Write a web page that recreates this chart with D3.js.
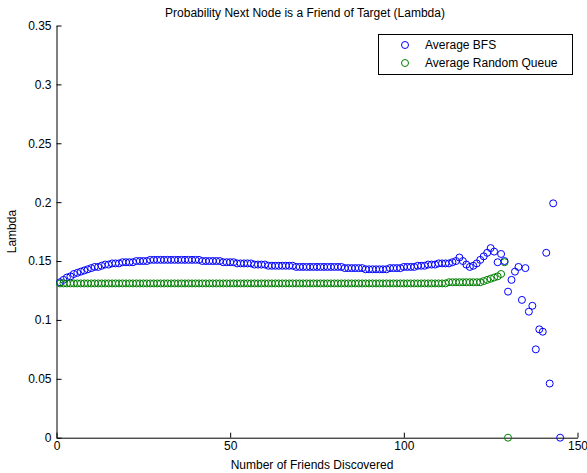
<!DOCTYPE html>
<html>
<head>
<meta charset="utf-8">
<script src="https://cdn.jsdelivr.net/npm/d3@7"></script>
<style>
  body { margin: 0; background: #fff; }
  svg text { font-family: "Liberation Sans", Arial, sans-serif; fill: #000; }
</style>
</head>
<body>
<div id="chart"></div>
<script>
/* =========================
   DATA
   ========================= */

// Average BFS, one value per number of friends discovered (1..145), null = no point
const bfsValues = [
  0.132, 0.134, 0.136, 0.137, 0.139, 0.140, 0.141, 0.142, 0.143, 0.144,
  0.145, 0.145, 0.146, 0.147, 0.147, 0.148, 0.148, 0.148, 0.149, 0.149,
  0.149, 0.149, 0.150, 0.150, 0.150, 0.150, 0.151, 0.151, 0.151, 0.151,
  0.151, 0.151, 0.151, 0.151, 0.151, 0.151, 0.151, 0.151, 0.151, 0.151,
  0.151, 0.150, 0.150, 0.150, 0.150, 0.150, 0.150, 0.149, 0.149, 0.149,
  0.149, 0.148, 0.148, 0.148, 0.148, 0.148, 0.147, 0.147, 0.147, 0.147,
  0.146, 0.146, 0.146, 0.146, 0.146, 0.146, 0.146, 0.146, 0.145, 0.145,
  0.145, 0.145, 0.145, 0.145, 0.145, 0.145, 0.145, 0.145, 0.145, 0.145,
  0.145, 0.145, 0.144, 0.144, 0.144, 0.144, 0.144, 0.144, 0.143, 0.143,
  0.143, 0.143, 0.143, 0.143, 0.143, 0.144, 0.144, 0.144, 0.144, 0.145,
  0.145, 0.145, 0.145, 0.146, 0.146, 0.146, 0.147, 0.147, 0.147, 0.148,
  0.148, 0.148, 0.148, 0.149, 0.150, 0.153, 0.150, 0.147, 0.145, 0.146,
  0.148, 0.151, 0.154, 0.157, 0.161, 0.158, 0.149, 0.156, 0.150, 0.124,
  0.134, 0.141, 0.145, 0.117, 0.144, 0.107, 0.112, 0.075, 0.092, 0.090,
  0.157, 0.046, 0.199, null, 0
];

// Average Random Queue (1..130)
const rqValues = [
  0.131, 0.131, 0.131, 0.131, 0.131, 0.131, 0.131, 0.131, 0.131, 0.131,
  0.131, 0.131, 0.131, 0.131, 0.131, 0.131, 0.131, 0.131, 0.131, 0.131,
  0.131, 0.131, 0.131, 0.131, 0.131, 0.131, 0.131, 0.131, 0.131, 0.131,
  0.131, 0.131, 0.131, 0.131, 0.131, 0.131, 0.131, 0.131, 0.131, 0.131,
  0.131, 0.131, 0.131, 0.131, 0.131, 0.131, 0.131, 0.131, 0.131, 0.131,
  0.131, 0.131, 0.131, 0.131, 0.131, 0.131, 0.131, 0.131, 0.131, 0.131,
  0.131, 0.131, 0.131, 0.131, 0.131, 0.131, 0.131, 0.131, 0.131, 0.131,
  0.131, 0.131, 0.131, 0.131, 0.131, 0.131, 0.131, 0.131, 0.131, 0.131,
  0.131, 0.131, 0.131, 0.131, 0.131, 0.131, 0.131, 0.131, 0.131, 0.131,
  0.131, 0.131, 0.131, 0.131, 0.131, 0.131, 0.131, 0.131, 0.131, 0.131,
  0.131, 0.131, 0.131, 0.131, 0.131, 0.131, 0.131, 0.131, 0.131, 0.131,
  0.131, 0.131, 0.132, 0.132, 0.132, 0.132, 0.132, 0.132, 0.132, 0.132,
  0.132, 0.132, 0.133, 0.134, 0.135, 0.136, 0.137, 0.139, 0.149, 0
];

const xTicks = [0, 50, 100, 150];
const yTicks = [0, 0.05, 0.1, 0.15, 0.2, 0.25, 0.3, 0.35];
const seriesNames = ["Average BFS", "Average Random Queue"];
const seriesColors = ["#0000ff", "#008000"];

/* =========================
   LAYOUT
   ========================= */

const WIDTH = 587;
const HEIGHT = 473;
const MARKER_R = 3.5;
const FONT = 12;

const x = d3.scaleLinear().domain([0, 150]).range([56.5, 577.5]);
const y = d3.scaleLinear().domain([0, 0.35]).range([437.7, 25.5]);

const svg = d3.select("#chart")
  .append("svg")
  .attr("width", WIDTH)
  .attr("height", HEIGHT);

svg.append("rect")
  .attr("width", WIDTH)
  .attr("height", HEIGHT)
  .attr("fill", "#fff");

/* =========================
   AXES
   ========================= */

const xAxis = d3.axisBottom(x)
  .tickValues(xTicks)
  .tickSizeInner(-5)
  .tickSizeOuter(0)
  .tickPadding(4);

const yAxis = d3.axisLeft(y)
  .tickValues(yTicks)
  .tickFormat(d3.format("~g"))
  .tickSizeInner(-5)
  .tickSizeOuter(0)
  .tickPadding(5);

svg.append("g")
  .attr("transform", `translate(0, ${y(0)})`)
  .call(xAxis)
  .call(g => g.selectAll("text").attr("font-size", FONT).attr("font-family", null))
  .call(g => g.selectAll("line, path").attr("stroke", "#000"));

svg.append("g")
  .attr("transform", `translate(${x(0)}, 0)`)
  .call(yAxis)
  .call(g => g.selectAll("text").attr("font-size", FONT).attr("font-family", null))
  .call(g => g.selectAll("line, path").attr("stroke", "#000"));

// titres
svg.append("text")
  .attr("x", 305)
  .attr("y", 17)
  .attr("text-anchor", "middle")
  .attr("font-size", FONT)
  .text("Probability Next Node is a Friend of Target (Lambda)");

svg.append("text")
  .attr("x", 312)
  .attr("y", 469)
  .attr("text-anchor", "middle")
  .attr("font-size", FONT)
  .text("Number of Friends Discovered");

svg.append("text")
  .attr("transform", `translate(16, ${(y(0) + y(0.35)) / 2}) rotate(-90)`)
  .attr("text-anchor", "middle")
  .attr("font-size", FONT)
  .text("Lambda");

/* =========================
   MARKERS
   ========================= */

const series = [bfsValues, rqValues];

series.forEach((values, i) => {
  const pts = values
    .map((v, k) => ({ n: k + 1, v }))
    .filter(d => d.v !== null);

  svg.append("g")
    .selectAll("circle")
    .data(pts)
    .enter()
    .append("circle")
    .attr("cx", d => x(d.n))
    .attr("cy", d => y(d.v))
    .attr("r", MARKER_R)
    .attr("fill", "none")
    .attr("stroke", seriesColors[i])
    .attr("stroke-width", 1);
});

/* =========================
   LEGEND
   ========================= */

const legend = svg.append("g");

legend.append("rect")
  .attr("x", 378.5)
  .attr("y", 34.5)
  .attr("width", 194)
  .attr("height", 40)
  .attr("fill", "#fff")
  .attr("stroke", "#000");

seriesNames.forEach((name, i) => {
  const ly = 45 + i * 18;
  legend.append("circle")
    .attr("cx", 405)
    .attr("cy", ly)
    .attr("r", MARKER_R)
    .attr("fill", "none")
    .attr("stroke", seriesColors[i]);
  legend.append("text")
    .attr("x", 425)
    .attr("y", ly + 4)
    .attr("font-size", FONT)
    .text(name);
});
</script>
</body>
</html>
